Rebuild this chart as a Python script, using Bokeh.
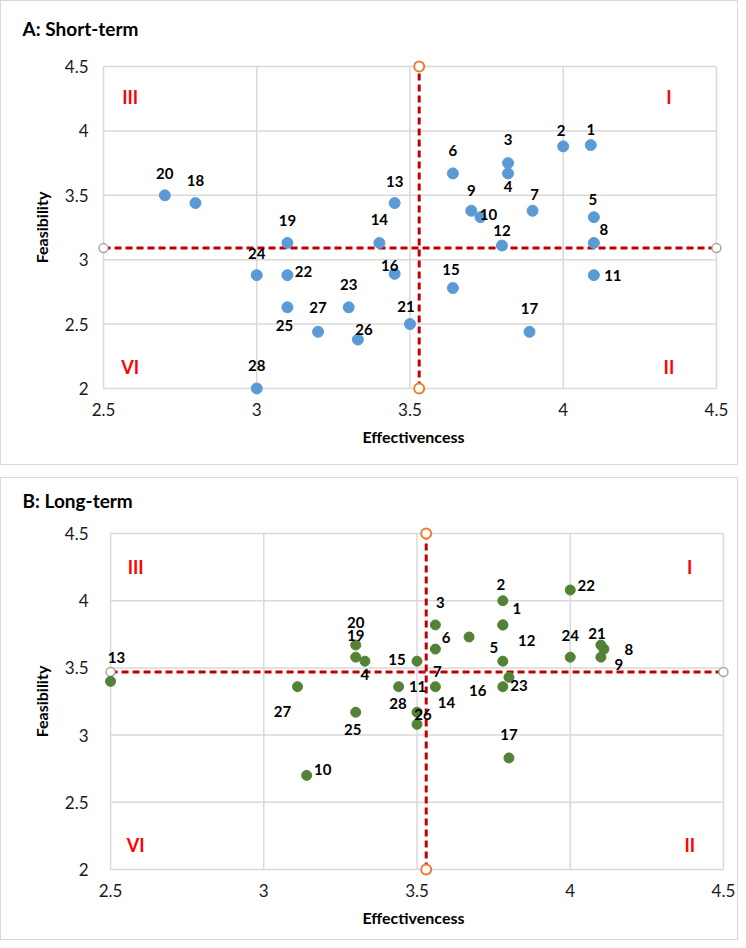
from bokeh.plotting import figure
from bokeh.layouts import column
from bokeh.models import Range1d, FixedTicker, NumeralTickFormatter, ColumnDataSource
from bokeh.core.properties import value
from bokeh.embed import file_html
from bokeh.resources import INLINE

# ---------------- data ----------------
a_ids = [str(i) for i in range(1, 29)]
a_eff = [4.09, 4.00, 3.82, 3.82, 4.10, 3.64, 3.90, 4.10, 3.70, 3.73, 4.10, 3.80, 3.45, 3.40,
         3.64, 3.45, 3.89, 2.80, 3.10, 2.70, 3.50, 3.10, 3.30, 3.00, 3.10, 3.33, 3.20, 3.00]
a_fea = [3.89, 3.88, 3.75, 3.67, 3.33, 3.67, 3.38, 3.13, 3.38, 3.33, 2.88, 3.11, 3.44, 3.13,
         2.78, 2.89, 2.44, 3.44, 3.13, 3.50, 2.50, 2.88, 2.63, 2.88, 2.63, 2.38, 2.44, 2.00]
a_mean_eff = 3.53
a_mean_fea = 3.09

b_ids = ["1", "2", "3", "4", "5", "6", "7", "8", "9", "10", "11", "12", "13", "14", "15",
         "16", "17", "19", "20", "21", "22", "23", "24", "25", "26", "27", "28"]
b_eff = [3.78, 3.78, 3.56, 3.33, 3.78, 3.67, 3.56, 4.11, 4.10, 3.14, 3.44, 3.78, 2.50, 3.56, 3.50,
         3.78, 3.80, 3.30, 3.30, 4.10, 4.00, 3.80, 4.00, 3.30, 3.50, 3.11, 3.50]
b_fea = [3.82, 4.00, 3.82, 3.55, 3.55, 3.73, 3.64, 3.64, 3.58, 2.70, 3.36, 3.82, 3.40, 3.36, 3.55,
         3.36, 2.83, 3.58, 3.67, 3.67, 4.08, 3.43, 3.58, 3.17, 3.08, 3.36, 3.17]
b_mean_eff = 3.53
b_mean_fea = 3.47

x_ticks = [2.5, 3, 3.5, 4, 4.5]
y_ticks = [2, 2.5, 3, 3.5, 4, 4.5]
quadrant_names = ["III", "I", "VI", "II"]

# ---------------- styling (label offsets in screen px) ----------------
a_lab_dx = [0, -2, 0, 0, -1, 0, 2, 10, 0, 8, 19, 0, 0, 0, -2, -5, 0, 0, 0, 0, -4, 16, 0, 0, -3, 6, 0, 0]
a_lab_dy = [-16, -16, -24, 13, -18, -23, -16, -13, -20, -3, 0, -15, -22, -23, -19, -8, -23, -23, -22, -22,
            -18, -4, -23, -22, 18, -10, -24, -23]
b_lab_dx = [14, -2, 5, 0, -9, -23, 2, 25, 18, 16, 19, 24, 6, 11, -20, -25, 0, 0, 0, -4, 16, 10, 0, -3, 6, -15, -19]
b_lab_dy = [-16, -16, -22, 13, -14, 0, 22, 0, 7, -6, 0, 16, -24, 16, -2, 4, -23, -22, -23, -12, -4, 8, -22,
            17, -10, 25, -9]

FONT = "Lato"
GRID = "#D9D9D9"
FRAME_W = 638
DATA_W = 611


def panel(title, ids, eff, fea, m_eff, m_fea, color, msize, ldx, ldy, g):
    px_x = DATA_W / 2.0
    px_y = g["dh"] / 2.5
    pv = 10
    p = figure(frame_width=FRAME_W, frame_height=g["dh"] + 2 * pv,
               x_range=Range1d(2.5 - g["pl"] / px_x, 4.5 + g["pr"] / px_x),
               y_range=Range1d(2.0 - pv / px_y, 4.5 + pv / px_y),
               min_border_left=92, min_border_right=6,
               min_border_top=g["t"], min_border_bottom=g["b"],
               output_backend="svg", toolbar_location=None,
               styles={"border": "1px solid #D9D9D9"})
    p.grid.visible = False
    p.outline_line_color = None
    p.background_fill_color = "white"
    p.border_fill_color = "white"

    for xv in x_ticks:
        p.segment(x0=xv, y0=y_ticks[0], x1=xv, y1=y_ticks[-1], line_color=GRID, line_width=1.5)
    for yv in y_ticks:
        p.segment(x0=x_ticks[0], y0=yv, x1=x_ticks[-1], y1=yv, line_color=GRID, line_width=1.5)

    for ax in (p.xaxis[0], p.yaxis[0]):
        ax.axis_line_color = None
        ax.major_tick_line_color = None
        ax.minor_tick_line_color = None
        ax.major_tick_out = 0
        ax.major_tick_in = 0
        ax.formatter = NumeralTickFormatter(format="0.[0]")
        ax.major_label_text_font = FONT
        ax.major_label_text_font_size = "17px"
        ax.major_label_text_color = "#1a1a1a"
        ax.axis_label_text_font = FONT
        ax.axis_label_text_font_size = "16px"
        ax.axis_label_text_font_style = "bold"
        ax.axis_label_text_color = "black"
    p.xaxis.ticker = FixedTicker(ticks=x_ticks)
    p.yaxis.ticker = FixedTicker(ticks=y_ticks)
    p.xaxis.axis_label = "Effectivencess"
    p.yaxis.axis_label = "Feasibility"
    p.xaxis.major_label_standoff = 4
    p.yaxis.major_label_standoff = 5
    p.xaxis.axis_label_standoff = 8
    p.yaxis.axis_label_standoff = 11

    p.title.text = title
    p.title.text_font = FONT
    p.title.text_font_size = "19px"
    p.title.text_font_style = "bold"
    p.title.text_color = "black"
    p.title.align = "left"
    p.title.offset = -71
    p.title.standoff = g["ts"]
    p.title.vertical_align = "top"

    p.line(x=[x_ticks[0], x_ticks[-1]], y=[m_fea, m_fea], line_color="#C00000", line_width=3,
           line_dash="7 4")
    p.line(x=[m_eff, m_eff], y=[y_ticks[0], y_ticks[-1]], line_color="#C00000", line_width=3,
           line_dash="7 4")
    p.scatter(x=[x_ticks[0], x_ticks[-1]], y=[m_fea, m_fea], size=9, fill_color="white",
              line_color="#A6A6A6", line_width=1.5)
    p.scatter(x=[m_eff, m_eff], y=[y_ticks[0], y_ticks[-1]], size=10, fill_color="white",
              line_color="#ED7D31", line_width=2)

    src = ColumnDataSource(dict(x=eff, y=fea, t=ids, dx=ldx, dy=ldy))
    p.scatter("x", "y", source=src, size=msize, fill_color=color, line_color=color)
    p.text("x", "y", text="t", source=src, x_offset="dx", y_offset="dy",
           text_font=value(FONT), text_font_size="15px", text_font_style="bold",
           text_color="black", text_align="center", text_baseline="middle")

    qx = [g["qxl"], g["qxr"], g["qxl"], g["qxr"]]
    qy = [g["qyt"], g["qyt"], g["qyb"], g["qyb"]]
    p.text(x=qx, y=qy, text=quadrant_names, text_font=value(FONT), text_font_size="18px",
           text_font_style="bold", text_color="#FF0000", text_align="center",
           text_baseline="middle")
    return p


gA = dict(dh=320, pl=10, pr=17, t=55, b=68, ts=30,
          qxl=2.587, qxr=4.345, qyt=4.26, qyb=2.165)
gB = dict(dh=334, pl=17, pr=10, t=45, b=62, ts=20,
          qxl=2.582, qxr=4.39, qyt=4.25, qyb=2.18)

pA = panel("A: Short-term", a_ids, a_eff, a_fea, a_mean_eff, a_mean_fea, "#5B9BD5", 11,
           a_lab_dx, a_lab_dy, gA)
pB = panel("B: Long-term", b_ids, b_eff, b_fea, b_mean_eff, b_mean_fea, "#548235", 10,
           b_lab_dx, b_lab_dy, gB)

layout = column(pA, pB, spacing=12)
open("out.html", "w").write(file_html(layout, INLINE))
